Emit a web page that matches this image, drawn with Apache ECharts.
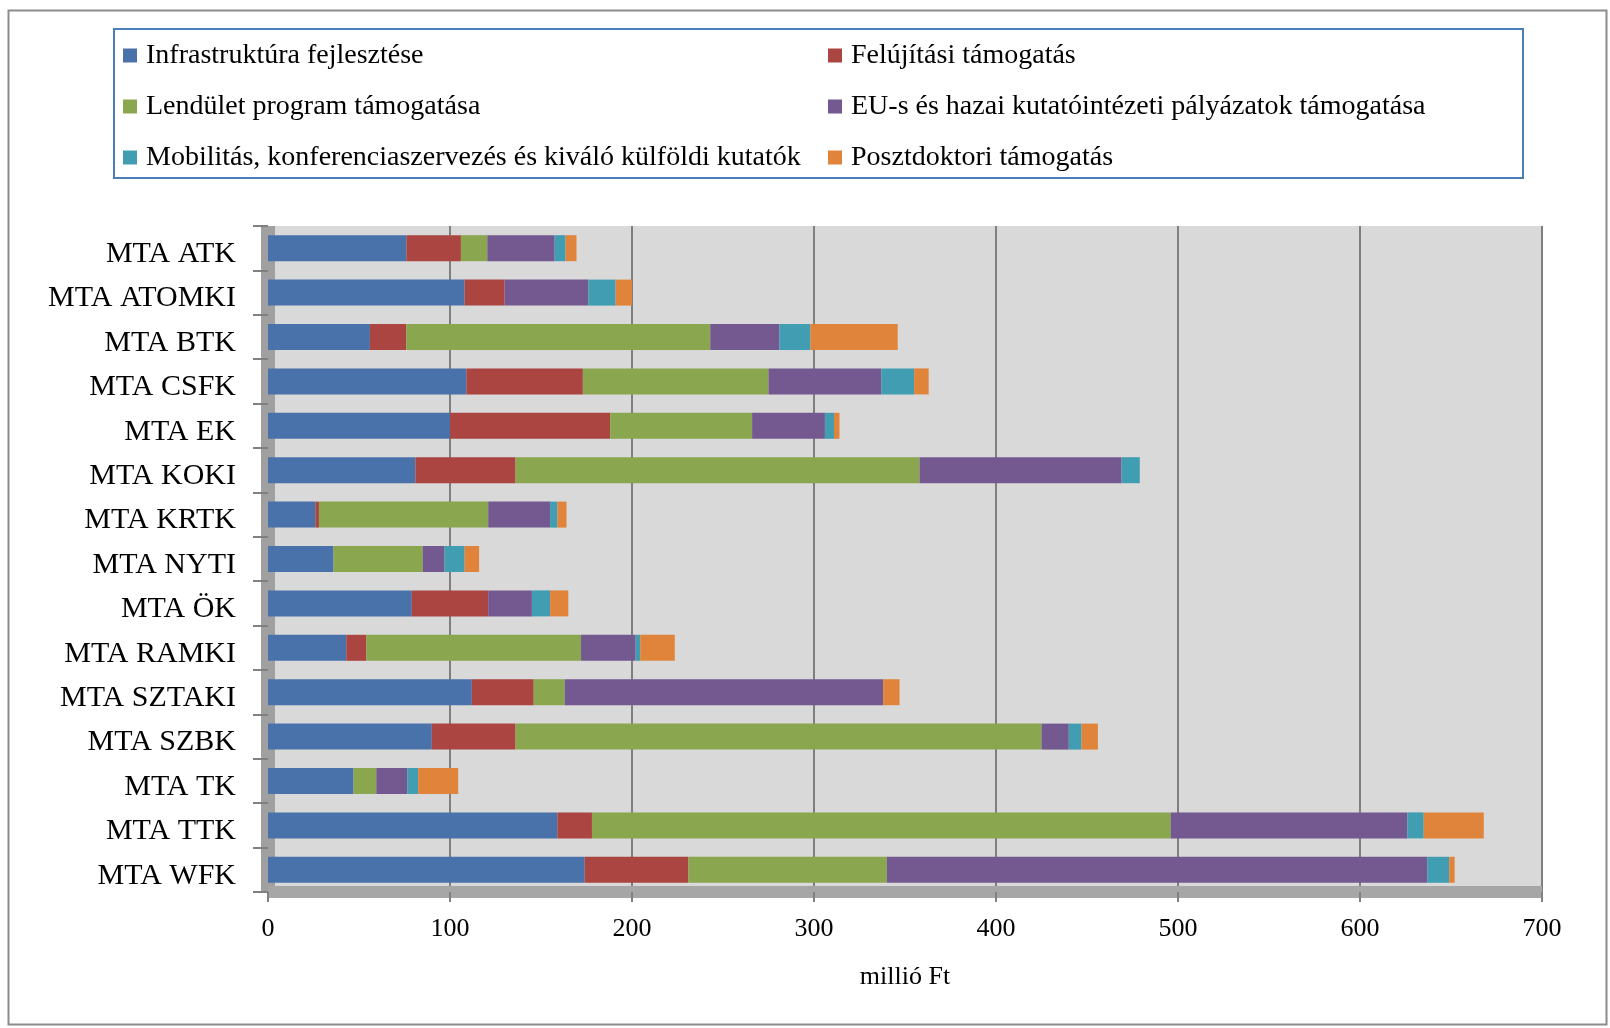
<!DOCTYPE html>
<html>
<head>
<meta charset="utf-8">
<script src="https://cdn.jsdelivr.net/npm/echarts@6/dist/echarts.min.js"></script>
<style>html,body{margin:0;padding:0;background:#fff}#c{width:1610px;height:1028px}</style>
</head>
<body>
<div id="c"></div>
<script>
const categories = ['MTA ATK','MTA ATOMKI','MTA BTK','MTA CSFK','MTA EK','MTA KOKI','MTA KRTK','MTA NYTI','MTA ÖK','MTA RAMKI','MTA SZTAKI','MTA SZBK','MTA TK','MTA TTK','MTA WFK'];
const seriesNames = ['Infrastruktúra fejlesztése','Felújítási támogatás','Lendület program támogatása','EU-s és hazai kutatóintézeti pályázatok támogatása','Mobilitás, konferenciaszervezés és kiváló külföldi kutatók','Posztdoktori támogatás'];
const infrastruktura = [76,108,56,109,100,81,26,36,79,43,112,90,47,159,174];
const felujitasi     = [30,22,20,64,88,55,2,0,42,11,34,46,0,19,57];
const lendulet       = [14.5,0,167,102,78,222,93,49,0,118,17,289,12.5,318,109];
const euHazai        = [37,46,38,62,40,111,34,12,24,30,175,15,17,130,297];
const mobilitas      = [6,15,17,18,5,10,4,11,10,2.5,0,7,6,9,12];
const posztdoktori   = [6,9,48,8,3,0,5,8,10,19,9,9,22,33,3];
const xTicks = [0,100,200,300,400,500,600,700];

const values = [infrastruktura, felujitasi, lendulet, euHazai, mobilitas, posztdoktori];
const colors = ['#4A72AA','#AA4542','#8AA64E','#73598F','#409DB2','#E0843C'];
const font = '"Liberation Serif", "DejaVu Serif", serif';

const chart = echarts.init(document.getElementById('c'));
chart.setOption({
  animation: false,
  color: colors,
  graphic: [{
    type: 'rect', silent: true, z: -10,
    shape: {x: 8.5, y: 10.5, width: 1598, height: 1014},
    style: {fill: 'none', stroke: '#8c8c8c', lineWidth: 2}
  }],
  legend: {
    left: 114, top: 29, width: 1400,
    orient: 'horizontal',
    padding: [9, 6, 3, 9],
    borderColor: '#4A7EBB', borderWidth: 2,
    itemWidth: 14, itemHeight: 14, itemGap: 16,
    icon: 'rect',
    textStyle: {fontFamily: font, fontSize: 28, color: '#000', width: 666, lineHeight: 35, padding: [0, 0, 0, 4]},
    data: seriesNames
  },
  grid: {
    left: 268, right: 68, top: 226, bottom: 136,
    show: true, backgroundColor: '#d9d9d9', borderWidth: 0
  },
  xAxis: {
    type: 'value', min: 0, max: 700, interval: 100,
    name: 'millió Ft', nameLocation: 'middle', nameGap: 72,
    nameTextStyle: {fontFamily: font, fontSize: 26, color: '#000'},
    axisLine: {show: true, lineStyle: {color: '#a6a6a6', width: 12, cap: 'butt'}},
    axisTick: {show: true, length: 10, lineStyle: {color: '#808080', width: 2}},
    axisLabel: {fontFamily: font, fontSize: 26, color: '#000', margin: 24,
      formatter: v => xTicks.includes(v) ? String(v) : ''},
    splitLine: {show: true, lineStyle: {color: '#7f7f7f', width: 2}}
  },
  yAxis: {
    type: 'category', data: categories, inverse: true,
    axisLine: {show: true, lineStyle: {color: '#a0a0a0', width: 14, cap: 'butt'}},
    axisTick: {show: true, length: 15, lineStyle: {color: '#808080', width: 2}},
    axisLabel: {margin: 32, formatter: v => '{a|' + v + '}',
      rich: {a: {fontFamily: font, fontSize: 30, color: '#000', padding: [12, 0, 0, 0]}}}
  },
  series: seriesNames.map((n, i) => ({
    name: n, type: 'bar', stack: 'total', data: values[i],
    barWidth: 26,
    itemStyle: {color: colors[i]}
  }))
});
</script>
</body>
</html>
